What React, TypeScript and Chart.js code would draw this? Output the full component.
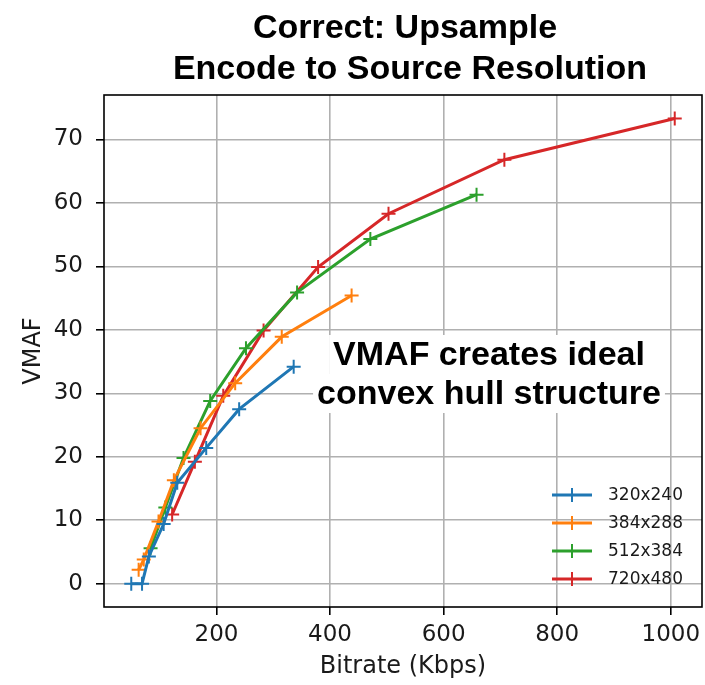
import { useEffect, useRef } from 'react';
import { Chart, registerables } from 'chart.js';

Chart.register(...registerables);

const TITLE_LINES = ['Correct: Upsample', 'Encode to Source Resolution'];
const NOTE_LINES = ['VMAF creates ideal', 'convex hull structure'];
const X_TITLE = 'Bitrate (Kbps)';
const Y_TITLE = 'VMAF';

const SERIES_LABELS = ['320x240', '384x288', '512x384', '720x480'];
const COLORS = ['#1f77b4', '#ff7f0e', '#2ca02c', '#d62728'];

const BITRATE_320 = [50, 69, 81, 107, 131, 182, 240, 336];
const VMAF_320 = [0, 0, 4.3, 9.4, 15.9, 21.4, 27.5, 34.2];

const BITRATE_384 = [63, 72, 98, 125, 172, 233, 315, 438];
const VMAF_384 = [2.2, 3.8, 9.8, 16.3, 24.5, 31.6, 38.9, 45.4];

const BITRATE_512 = [84, 110, 142, 189, 252, 342, 471, 658];
const VMAF_512 = [5.6, 12.0, 19.8, 28.8, 37.1, 45.9, 54.3, 61.3];

const BITRATE_720 = [122, 162, 212, 283, 379, 503, 707, 1007];
const VMAF_720 = [10.9, 19.2, 29.6, 39.9, 49.9, 58.3, 66.8, 73.3];

const X_TICKS = [200, 400, 600, 800, 1000];
const Y_TICKS = [0, 10, 20, 30, 40, 50, 60, 70];

const BITRATES = [BITRATE_320, BITRATE_384, BITRATE_512, BITRATE_720];
const VMAFS = [VMAF_320, VMAF_384, VMAF_512, VMAF_720];

const TEXT = '#1a1a1a';
const SANS = '"DejaVu Sans", sans-serif';
const BOLD = 'bold 34px "Liberation Sans", Arial, sans-serif';

const decorPlugin = {
  id: 'decor',
  afterDraw(chart: any) {
    const ctx = chart.ctx;
    const a = chart.chartArea;
    ctx.save();
    ctx.strokeStyle = '#000';
    ctx.lineWidth = 1.6;
    ctx.strokeRect(a.left, a.top, a.right - a.left, a.bottom - a.top);

    ctx.fillStyle = '#000';
    ctx.font = BOLD;
    ctx.textAlign = 'center';
    ctx.textBaseline = 'alphabetic';
    ctx.fillText(TITLE_LINES[0], 405, 38);
    ctx.fillText(TITLE_LINES[1], 410, 79);

    const nb = [365, 404];
    NOTE_LINES.forEach((t, i) => {
      const w = ctx.measureText(t).width;
      ctx.fillStyle = '#fff';
      ctx.fillRect(489 - w / 2 - 4, nb[i] - 30, w + 8, 39);
    });
    ctx.fillStyle = '#000';
    NOTE_LINES.forEach((t, i) => ctx.fillText(t, 489, nb[i]));

    const rows = [495, 523, 551, 579];
    ctx.font = '17px ' + SANS;
    ctx.textAlign = 'left';
    ctx.textBaseline = 'middle';
    chart.data.datasets.forEach((ds: any, i: number) => {
      const y = rows[i];
      ctx.strokeStyle = ds.borderColor;
      ctx.lineWidth = 3;
      ctx.beginPath();
      ctx.moveTo(552, y);
      ctx.lineTo(592, y);
      ctx.stroke();
      ctx.lineWidth = 2;
      ctx.beginPath();
      ctx.moveTo(572 - 7, y);
      ctx.lineTo(572 + 7, y);
      ctx.moveTo(572, y - 7);
      ctx.lineTo(572, y + 7);
      ctx.stroke();
      ctx.fillStyle = TEXT;
      ctx.fillText(ds.label, 608, y + 1);
    });
    ctx.restore();
  },
};

export default function App() {
  const ref = useRef<HTMLCanvasElement | null>(null);
  useEffect(() => {
    if (!ref.current) return;
    const datasets = SERIES_LABELS.map((label, i) => ({
      label,
      data: BITRATES[i].map((x, j) => ({ x, y: VMAFS[i][j] })),
      borderColor: COLORS[i],
      backgroundColor: COLORS[i],
      borderWidth: 3,
      pointStyle: 'cross',
      pointRadius: 7,
      pointBorderWidth: 2,
      pointBorderColor: COLORS[i],
      tension: 0,
      fill: false,
      clip: false,
    }));
    const chart = new Chart(ref.current, {
      type: 'line',
      data: { datasets },
      options: {
        animation: false,
        responsive: false,
        devicePixelRatio: 1,
        layout: { autoPadding: false, padding: { left: 0, right: 3, top: 95, bottom: 0 } },
        plugins: { legend: { display: false }, title: { display: false }, tooltip: { enabled: false } },
        scales: {
          x: {
            type: 'linear',
            min: 2,
            max: 1055,
            afterBuildTicks: (axis: any) => {
              axis.ticks = X_TICKS.map((v) => ({ value: v }));
            },
            afterFit: (scale: any) => {
              scale.height = 78;
              scale.paddingLeft = 0;
              scale.paddingRight = 0;
            },
            grid: { color: '#b0b0b0', lineWidth: 1.6, tickColor: '#000', tickLength: 8, tickWidth: 1.6 },
            border: { display: false },
            ticks: {
              color: TEXT,
              font: { family: SANS, size: 23 },
              padding: 6,
              maxRotation: 0,
              autoSkip: false,
              callback: (v: any) => String(v),
            },
            title: { display: true, text: X_TITLE, color: TEXT, font: { family: SANS, size: 24 }, padding: { top: 0, bottom: 4 } },
          },
          y: {
            type: 'linear',
            min: -3.67,
            max: 77.0,
            afterBuildTicks: (axis: any) => {
              axis.ticks = Y_TICKS.map((v) => ({ value: v }));
            },
            afterFit: (scale: any) => {
              scale.width = 104;
              scale.paddingTop = 0;
              scale.paddingBottom = 0;
            },
            grid: { color: '#b0b0b0', lineWidth: 1.6, tickColor: '#000', tickLength: 8, tickWidth: 1.6 },
            border: { display: false },
            ticks: { color: TEXT, font: { family: SANS, size: 23 }, padding: 13, autoSkip: false, callback: (v: any) => String(v) },
            title: { display: true, text: Y_TITLE, color: TEXT, font: { family: SANS, size: 24 }, padding: { top: 19, bottom: 0 } },
          },
        },
      },
      plugins: [decorPlugin],
    } as any);
    return () => chart.destroy();
  }, []);
  return (
    <div style={{ position: 'fixed', left: 0, top: 0, width: 705, height: 685, background: '#fff' }}>
      <canvas ref={ref} width={705} height={685} style={{ display: 'block' }} />
    </div>
  );
}
